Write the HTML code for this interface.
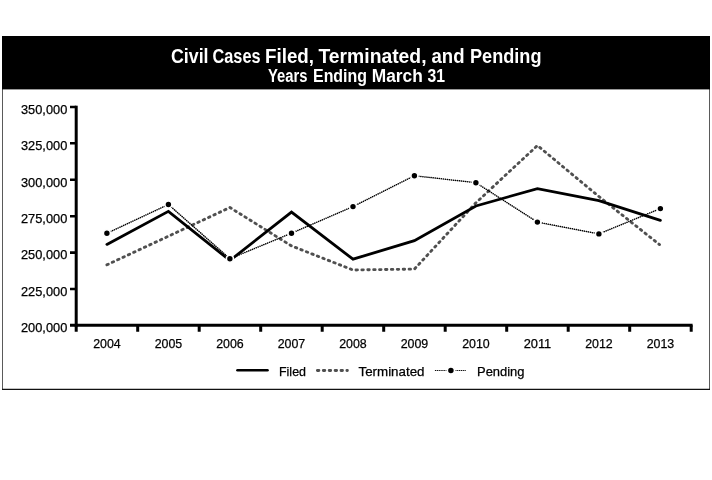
<!DOCTYPE html>
<html>
<head>
<meta charset="utf-8">
<title>Civil Cases Filed, Terminated, and Pending</title>
<style>
html,body{margin:0;padding:0;background:#fff;}
body{width:712px;height:480px;overflow:hidden;font-family:"Liberation Sans",sans-serif;}
svg{display:block;position:absolute;left:0;top:0;}
text{font-family:"Liberation Sans",sans-serif;}
.ax{font-size:13.1px;fill:#000;stroke:#000;stroke-width:0.25px;}
.ax text{fill:#000;}
</style>
</head>
<body>
<svg width="712" height="480" viewBox="0 0 712 480" style="will-change:transform;filter:grayscale(1)">
  <rect x="0" y="0" width="712" height="480" fill="#fff"/>
  <!-- frame -->
  <path d="M2.5 36 V389.8 M709.5 36 V389.8" stroke="#5a5a5a" stroke-width="1" fill="none"/>
  <path d="M2 389.3 H710" stroke="#111" stroke-width="1.2" fill="none"/>
  <!-- header -->
  <rect x="2" y="36" width="708" height="53.4" fill="#000"/>
  <text x="171.00" y="62.9" font-size="19.4" font-weight="bold" fill="#fff" textLength="37.50" lengthAdjust="spacingAndGlyphs">Civil</text>
  <text x="212.50" y="62.9" font-size="19.4" font-weight="bold" fill="#fff" textLength="48.00" lengthAdjust="spacingAndGlyphs">Cases</text>
  <text x="265.00" y="62.9" font-size="19.4" font-weight="bold" fill="#fff" textLength="49.00" lengthAdjust="spacingAndGlyphs">Filed,</text>
  <text x="318.50" y="62.9" font-size="19.4" font-weight="bold" fill="#fff" textLength="108.00" lengthAdjust="spacingAndGlyphs">Terminated,</text>
  <text x="431.50" y="62.9" font-size="19.4" font-weight="bold" fill="#fff" textLength="33.00" lengthAdjust="spacingAndGlyphs">and</text>
  <text x="470.00" y="62.9" font-size="19.4" font-weight="bold" fill="#fff" textLength="71.50" lengthAdjust="spacingAndGlyphs">Pending</text>
  <text x="268.00" y="81.6" font-size="17.6" font-weight="bold" fill="#fff" textLength="39.50" lengthAdjust="spacingAndGlyphs">Years</text>
  <text x="313.00" y="81.6" font-size="17.6" font-weight="bold" fill="#fff" textLength="54.00" lengthAdjust="spacingAndGlyphs">Ending</text>
  <text x="371.80" y="81.6" font-size="17.6" font-weight="bold" fill="#fff" textLength="51.00" lengthAdjust="spacingAndGlyphs">March</text>
  <text x="427.40" y="81.6" font-size="17.6" font-weight="bold" fill="#fff" textLength="17.50" lengthAdjust="spacingAndGlyphs">31</text>

  <!-- axes -->
  <g stroke="#000" stroke-width="3" fill="none" stroke-linecap="butt">
    <path d="M76.2 105.7 V326.8"/>
    <path d="M70 325.3 H692.6"/>
  </g>
  <g stroke="#000" stroke-width="2.6" fill="none">
    <path d="M70 107 H76.2 M70 143.3 H76.2 M70 179.7 H76.2 M70 216.2 H76.2 M70 252.6 H76.2 M70 289 H76.2"/>
  </g>
  <g stroke="#000" stroke-width="3" fill="none">
    <path d="M76.2 325.3 V331.8 M137.7 325.3 V331.8 M199.2 325.3 V331.8 M260.7 325.3 V331.8 M322.2 325.3 V331.8 M383.7 325.3 V331.8 M445.2 325.3 V331.8 M506.7 325.3 V331.8 M568.2 325.3 V331.8 M629.7 325.3 V331.8 M691.2 325.3 V331.8"/>
  </g>

  <!-- y labels -->
  <g class="ax" text-anchor="end">
    <text x="67.3" y="113.70" textLength="46.3" lengthAdjust="spacingAndGlyphs">350,000</text>
    <text x="67.3" y="150.10" textLength="46.3" lengthAdjust="spacingAndGlyphs">325,000</text>
    <text x="67.3" y="186.50" textLength="46.3" lengthAdjust="spacingAndGlyphs">300,000</text>
    <text x="67.3" y="223.00" textLength="46.3" lengthAdjust="spacingAndGlyphs">275,000</text>
    <text x="67.3" y="259.40" textLength="46.3" lengthAdjust="spacingAndGlyphs">250,000</text>
    <text x="67.3" y="295.80" textLength="46.3" lengthAdjust="spacingAndGlyphs">225,000</text>
    <text x="67.3" y="332.20" textLength="46.3" lengthAdjust="spacingAndGlyphs">200,000</text>
  </g>
  <!-- x labels -->
  <g class="ax" text-anchor="middle">
    <text x="106.95" y="348" textLength="27.6" lengthAdjust="spacingAndGlyphs">2004</text>
    <text x="168.45" y="348" textLength="27.6" lengthAdjust="spacingAndGlyphs">2005</text>
    <text x="229.95" y="348" textLength="27.6" lengthAdjust="spacingAndGlyphs">2006</text>
    <text x="291.45" y="348" textLength="27.6" lengthAdjust="spacingAndGlyphs">2007</text>
    <text x="352.95" y="348" textLength="27.6" lengthAdjust="spacingAndGlyphs">2008</text>
    <text x="414.45" y="348" textLength="27.6" lengthAdjust="spacingAndGlyphs">2009</text>
    <text x="475.95" y="348" textLength="27.6" lengthAdjust="spacingAndGlyphs">2010</text>
    <text x="537.45" y="348" textLength="27.6" lengthAdjust="spacingAndGlyphs">2011</text>
    <text x="598.95" y="348" textLength="27.6" lengthAdjust="spacingAndGlyphs">2012</text>
    <text x="660.45" y="348" textLength="27.6" lengthAdjust="spacingAndGlyphs">2013</text>
  </g>

  <!-- Terminated (dashed gray) -->
  <polyline fill="none" stroke="#505050" stroke-width="2.85" stroke-dasharray="1.5 4.4" stroke-linecap="round" stroke-linejoin="round"
    points="106.9,264.8 168.4,236.2 229.9,207.5 291.5,245.9 353,270 414.4,269.1 475.9,202.8 537.4,145.5 598.9,196.5 659.5,244.6"/>

  <!-- Filed (solid black) -->
  <polyline fill="none" stroke="#000" stroke-width="2.8" stroke-linejoin="miter" stroke-linecap="round"
    points="106.9,244.4 168.4,211.3 229.9,260.5 291.5,212.1 353,259.2 414.4,240.6 475.9,206 537.4,188.6 598.9,200.7 660.4,220.3"/>

  <!-- Pending (thin dotted with markers) -->
  <polyline fill="none" stroke="#000" stroke-width="1.5" stroke-linecap="round" stroke-dasharray="0.2 1.85" points="106.9,233.3 168.4,204.5 229.9,258.7 291.5,233.2 353,206.6 414.4,175.7 475.9,182.7 537.4,222.1 598.9,233.9 660.4,208.6"/>
  <g fill="#000" stroke="#fff" stroke-width="1.7">
    <circle cx="106.9" cy="233.3" r="3.55"/>
    <circle cx="168.4" cy="204.5" r="3.55"/>
    <circle cx="229.9" cy="258.7" r="3.55"/>
    <circle cx="291.5" cy="233.2" r="3.55"/>
    <circle cx="353" cy="206.6" r="3.55"/>
    <circle cx="414.4" cy="175.7" r="3.55"/>
    <circle cx="475.9" cy="182.7" r="3.55"/>
    <circle cx="537.4" cy="222.1" r="3.55"/>
    <circle cx="598.9" cy="233.9" r="3.55"/>
    <circle cx="660.4" cy="208.6" r="3.55"/>
  </g>

  <!-- legend -->
  <path d="M237.5 370.3 H267.5" stroke="#000" stroke-width="2.6" stroke-linecap="round" fill="none"/>
  <path d="M317.4 370.5 H347.4" stroke="#505050" stroke-width="2.85" stroke-linecap="round" stroke-dasharray="1.5 4.4" fill="none"/>
  <path d="M435.4 370.5 H465.6" stroke="#000" stroke-width="1.15" stroke-linecap="round" stroke-dasharray="0.3 1.55" fill="none"/>
  <circle cx="450.9" cy="370.5" r="3.65" fill="#000" stroke="#fff" stroke-width="1.8"/>
  <g class="ax">
  <text x="279.00" y="375.9" font-size="13.1" fill="#000" textLength="27.00" lengthAdjust="spacingAndGlyphs">Filed</text>
  <text x="358.50" y="375.9" font-size="13.1" fill="#000" textLength="66.00" lengthAdjust="spacingAndGlyphs">Terminated</text>
  <text x="477.00" y="375.9" font-size="13.1" fill="#000" textLength="47.50" lengthAdjust="spacingAndGlyphs">Pending</text>
  </g>
</svg>
</body>
</html>
